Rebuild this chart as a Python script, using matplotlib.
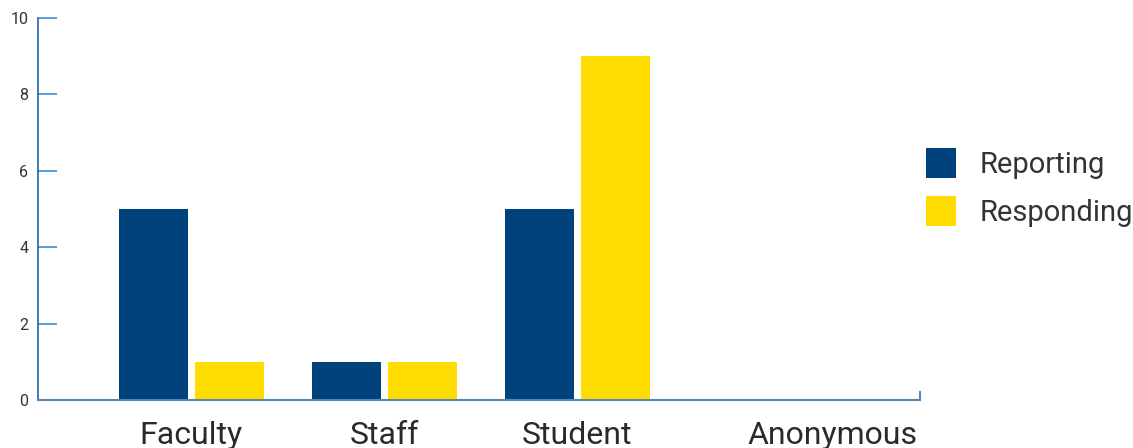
import numpy as np
import matplotlib
matplotlib.use('Agg')
import matplotlib.pyplot as plt

categories = ['Faculty', 'Staff', 'Student', 'Anonymous']
reporting = [5, 1, 5, 0]
responding = [1, 1, 9, 0]
series_names = ['Reporting', 'Responding']

navy = '#00427c'
yellow = '#ffdd00'

plt.rcParams['font.family'] = ['Roboto', 'DejaVu Sans']

fig = plt.figure(figsize=(11.33, 4.48), dpi=100)
ax = fig.add_axes([38 / 1133, 48 / 448, 882 / 1133, 382 / 448])

x = np.arange(len(categories))
w = 0.357
off = 0.197
ax.bar(x - off, reporting, w, color=navy, label=series_names[0], zorder=2)
ax.bar(x + off, responding, w, color=yellow, label=series_names[1], zorder=2)

ax.set_xlim(-0.795, 3.775)
ax.set_ylim(0, 10)

ax.spines['top'].set_visible(False)
ax.spines['left'].set_color('#2663a8')
ax.spines['left'].set_linewidth(1.2)
ax.spines['bottom'].set_color('#5a86b3')
ax.spines['bottom'].set_linewidth(1.5)
ax.spines['right'].set_color('#5a86b3')
ax.spines['right'].set_linewidth(1.5)
ax.spines['right'].set_bounds(0, 0.22)

ax.set_yticks([0, 2, 4, 6, 8, 10])
ax.tick_params(axis='y', direction='in', length=14, width=1.2, color='#3d8ad6',
               labelsize=11.5, labelcolor='#333333', pad=7)

# label for Anonymous sits a bit right of its group in the original
label_pos = x + np.array([0, 0, 0, 0.32])
ax.set_xticks(label_pos)
ax.set_xticklabels(categories, fontsize=23, color='#2a2a2a')
ax.tick_params(axis='x', length=0, pad=15)

ax.legend(loc='upper left', bbox_to_anchor=(926 / 1133, 1 - 148 / 448),
          bbox_transform=fig.transFigure, frameon=False, fontsize=21,
          handlelength=1.03, handleheight=1.2, handletextpad=0.8,
          labelspacing=0.6, borderpad=0, borderaxespad=0, labelcolor='#333333')

fig.savefig('out.png', dpi=100)
